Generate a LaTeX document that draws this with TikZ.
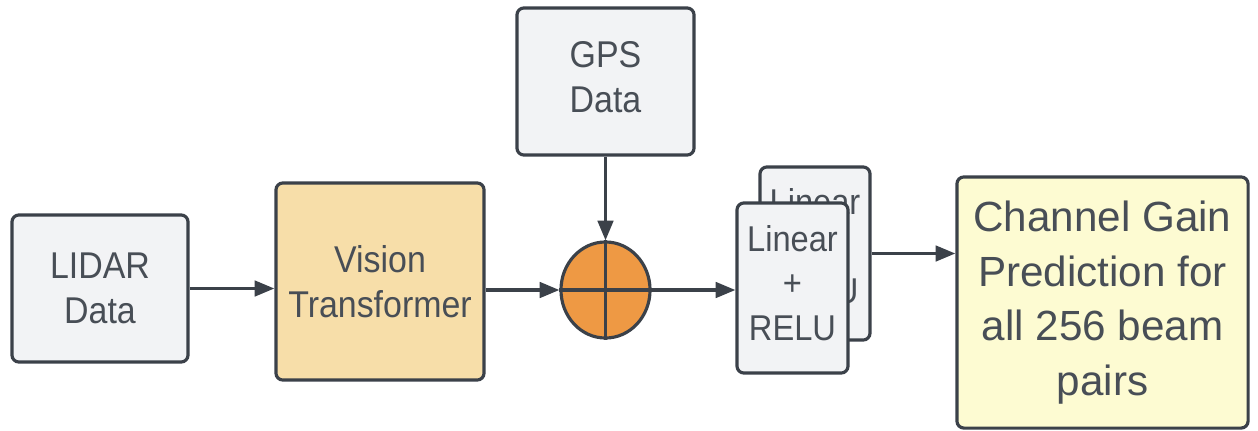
\documentclass[tikz,border=0pt]{standalone}
\usepackage{fontspec}
\setmainfont{Liberation Sans}
\newfontfamily\narrowsans[FakeStretch=0.91]{Liberation Sans}
\usetikzlibrary{shapes.geometric,arrows.meta}
\definecolor{ink}{HTML}{3B4149}
\definecolor{txt}{HTML}{484E56}
\definecolor{grayfill}{HTML}{F2F3F5}
\definecolor{sandfill}{HTML}{F7DEA9}
\definecolor{orangefill}{HTML}{EE9944}
\definecolor{creamfill}{HTML}{FDFBD2}
\begin{document}
\begin{tikzpicture}[x=0.01cm,y=-0.01cm,
  box/.style={draw=ink,line width=0.9pt,rounded corners=0.07cm,fill=grayfill,
    text=txt,align=center,inner sep=0pt,font=\narrowsans\fontsize{10.6}{12.8}\selectfont},
  layerfont/.style={text=txt,align=center,inner sep=0pt,font=\narrowsans\fontsize{10.2}{12.6}\selectfont},
  flow/.style={draw=ink,line width=0.9pt,-{Triangle[length=5.6pt,width=4.4pt]}}]
\useasboundingbox (0,0) rectangle (1258,430);
% input and encoder blocks
\node[box,minimum width=1.76cm,minimum height=1.47cm] (lidar) at (100,288.5) {LIDAR\\Data};
\node[box,fill=sandfill,minimum width=2.08cm,minimum height=1.97cm] (vt) at (380,281.5) {Vision\\Transformer};
\node[box,minimum width=1.77cm,minimum height=1.47cm] (gps) at (605.5,81.5) {};
\node[layerfont,font=\narrowsans\fontsize{10.6}{12.8}\selectfont] (gpstext) at (605.5,77.5) {GPS\\Data};
% fusion operator
\node[ellipse,draw=ink,line width=0.9pt,fill=orangefill,minimum width=0.89cm,minimum height=0.96cm,inner sep=0pt] (circ) at (605.5,290) {};
\draw[ink,line width=0.9pt] (circ.north) -- (circ.south) (circ.west) -- (circ.east);
% stacked dense layers: the rear copy shows only the edges of its label
\node[box,minimum width=1.10cm,minimum height=1.73cm] (back) at (815,253.5) {};
\node[layerfont] (backtext) at (815,246) {Linear\\+\\RELU};
\node[box,minimum width=1.11cm,minimum height=1.70cm] (front) at (792.5,288) {};
\node[layerfont] (fronttext) at (792.5,283) {Linear\\+\\RELU};
% output block
\node[box,fill=creamfill,font=\fontsize{12}{15.5}\selectfont,minimum width=2.91cm,minimum height=2.51cm] (chan) at (1102.5,302.5) {Channel Gain\\Prediction for\\all 256 beam\\pairs};
% connectors
\draw[flow] (lidar.east) -- (lidar.east -| vt.west);
\draw[flow] (vt.east |- circ.west) -- (circ.west);
\draw[flow] (gps.south) -- (circ.north);
\draw[flow] (circ.east) -- (circ.east -| front.west);
\draw[flow] (back.east) -- (back.east -| chan.west);
\end{tikzpicture}
\end{document}
